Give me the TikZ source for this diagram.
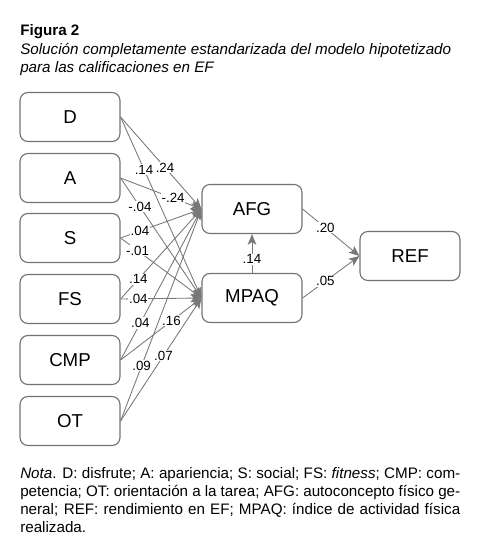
\documentclass[tikz,border=0pt]{standalone}
\usepackage{fontspec}
\setmainfont{Liberation Sans}
\usetikzlibrary{arrows.meta}

\definecolor{boxgray}{RGB}{115,115,115}
\definecolor{pathgray}{RGB}{120,120,120}

\tikzset{
  var/.style={draw=boxgray, line width=0.85pt, rounded corners=6pt, minimum width=75pt, minimum height=36.75pt, inner sep=0pt, font=\fontsize{14}{16}\selectfont},
  path/.style={draw=pathgray, line width=0.65pt, -{Stealth[length=8pt, width=6.5pt, inset=2pt]}},
  coef/.style={fill=white, inner sep=0.6pt, font=\fontsize{10}{11}\selectfont}
}

\begin{document}
\begin{tikzpicture}[x=0.75pt,y=0.75pt,yscale=-1,xscale=1]
\useasboundingbox (0,0) rectangle (482,556);

% Caption
\node [anchor=base west, inner sep=0pt, align=left, font=\fontsize{11.4}{13.9}\selectfont] (caption) at (20,72.7) {\textbf{Figura 2}\\\textit{Solución completamente estandarizada del modelo hipotetizado}\\\textit{para las calificaciones en EF}};

% Predictors
\node [var] (D) at (70,117) {D};
\node [var] (A) at (70,178) {A};
\node [var] (S) at (70,238) {S};
\node [var] (FS) at (70,299) {FS};
\node [var] (CMP) at (70,360) {CMP};
\node [var] (OT) at (70,421) {OT};

% Mediators and outcome
\node [var] (AFG) at (252,209) {AFG};
\node [var] (MPAQ) at (252,298) {MPAQ};
\node [var] (REF) at (410,256) {REF};

%Paths to AFG
\draw [path] (D.east) -- node [coef, pos=0.55] {.24} (AFG.west);
\draw [path] (A.east) -- node [coef, pos=0.65] {-.24} (AFG.west);
\draw [path] (S.east) -- node [coef, pos=0.24] {.04} (AFG.west);
\draw [path] (FS.east) -- node [coef, pos=0.22] {.14} (AFG.west);
\draw [path] (CMP.east) -- node [coef, pos=0.245] {.04} (AFG.west);
\draw [path] (OT.east) -- node [coef, pos=0.26] {.09} (AFG.west);
%Paths to MPAQ
\draw [path] (D.east) -- node [coef, pos=0.29] {.14} (MPAQ.west);
\draw [path] (A.east) -- node [coef, pos=0.24] {-.04} (MPAQ.west);
\draw [path] (S.east) -- node [coef, pos=0.21] {-.01} (MPAQ.west);
\draw [path] (FS.east) -- node [coef, pos=0.22] {.04} (MPAQ.west);
\draw [path] (CMP.east) -- node [coef, pos=0.63] {.16} (MPAQ.west);
\draw [path] (OT.east) -- node [coef, pos=0.53] {.07} (MPAQ.west);
%Paths to REF
\draw [path] (MPAQ) -- node [coef, pos=0.35] {.14} (AFG);
\draw [path] (AFG.east) -- node [coef, pos=0.4] {.20} (REF.west);
\draw [path] (MPAQ.east) -- node [coef, pos=0.4] {.05} (REF.west);

% Note
\node [anchor=base west, inner sep=0pt, text width=330pt, align=justify, font=\fontsize{11.4}{13.7}\selectfont] (note) at (20,478) {\textit{Nota}. D: disfrute; A: apariencia; S: social; FS: \textit{fitness}; CMP: com-\linebreak petencia; OT: orientación a la tarea; AFG: autoconcepto físico ge-\linebreak neral; REF: rendimiento en EF; MPAQ: índice de actividad física\linebreak realizada.};

\end{tikzpicture}
\end{document}
